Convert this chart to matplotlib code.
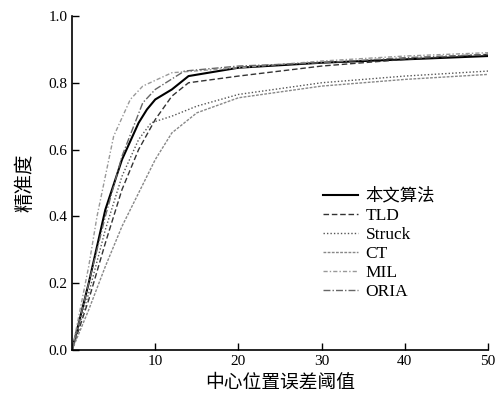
import matplotlib
matplotlib.use("Agg")
import matplotlib.pyplot as plt

# center location error threshold (px)
x_ours = [0, 2, 4, 6, 8, 9, 10, 12, 14, 20, 30, 40, 50]
y_ours = [0, 0.20, 0.42, 0.57, 0.68, 0.72, 0.75, 0.78, 0.82, 0.845, 0.86, 0.87, 0.88]

x_tld = [0, 2, 4, 6, 8, 10, 12, 14, 20, 30, 40, 50]
y_tld = [0, 0.15, 0.32, 0.48, 0.60, 0.69, 0.76, 0.80, 0.82, 0.85, 0.87, 0.885]

x_struck = [0, 2, 4, 6, 8, 9.5, 12, 15, 20, 30, 40, 50]
y_struck = [0, 0.17, 0.36, 0.52, 0.63, 0.68, 0.70, 0.73, 0.765, 0.80, 0.82, 0.835]

x_ct = [0, 2, 4, 6, 8, 10, 12, 15, 20, 30, 40, 50]
y_ct = [0, 0.12, 0.25, 0.37, 0.47, 0.57, 0.65, 0.71, 0.755, 0.79, 0.81, 0.825]

x_mil = [0, 2, 3, 5, 7, 8.5, 12, 20, 30, 40, 50]
y_mil = [0, 0.25, 0.40, 0.64, 0.75, 0.79, 0.83, 0.845, 0.865, 0.88, 0.89]

x_oria = [0, 2, 4, 6, 8.5, 10, 13.5, 20, 30, 40, 50]
y_oria = [0, 0.20, 0.40, 0.58, 0.74, 0.78, 0.835, 0.85, 0.86, 0.875, 0.885]

plt.rcParams['font.family'] = ['Liberation Serif', 'Noto Sans CJK SC']
plt.rcParams['xtick.direction'] = 'in'
plt.rcParams['ytick.direction'] = 'in'

fig = plt.figure(figsize=(4.97, 3.99), dpi=100)
ax = fig.add_axes([0.145, 0.123, 0.837, 0.837])

ax.plot(x_ours, y_ours, color='black', lw=1.5, label='本文算法')
ax.plot(x_tld, y_tld, color='#333333', lw=1.0, ls=(0, (4, 2)), label='TLD')
ax.plot(x_struck, y_struck, color='#555555', lw=1.0, ls=(0, (1, 1.5)), label='Struck')
ax.plot(x_ct, y_ct, color='#888888', lw=1.0, ls=(0, (2, 1)), label='CT')
ax.plot(x_mil, y_mil, color='#999999', lw=1.0, ls=(0, (3, 1.5, 1, 1.5)), label='MIL')
ax.plot(x_oria, y_oria, color='#666666', lw=1.0, ls=(0, (5, 1.5, 1, 1.5)), label='ORIA')

ax.set_xlim(0, 50)
ax.set_ylim(0, 1.0)
ax.set_xticks([10, 20, 30, 40, 50])
ax.set_yticks([0.0, 0.2, 0.4, 0.6, 0.8, 1.0])
ax.set_yticklabels(['0.0', '0.2', '0.4', '0.6', '0.8', '1.0'])
ax.tick_params(labelsize=11, length=5, width=1)
ax.spines['top'].set_visible(False)
ax.spines['right'].set_visible(False)
ax.spines['left'].set_linewidth(1.2)
ax.spines['bottom'].set_linewidth(1.2)

ax.set_xlabel('中心位置误差阈值', family=['Noto Sans CJK SC'], fontsize=13.5, labelpad=3)
ax.set_ylabel('精准度', family=['Noto Sans CJK SC'], fontsize=14, labelpad=9)

ax.legend(loc='upper left', bbox_to_anchor=(0.582, 0.51), frameon=False,
          handlelength=2.0, handletextpad=0.45, labelspacing=0.17, borderpad=0,
          prop={'family': ['Liberation Serif', 'Noto Sans CJK SC'], 'size': 12.5})

fig.savefig('out.png', dpi=100)
